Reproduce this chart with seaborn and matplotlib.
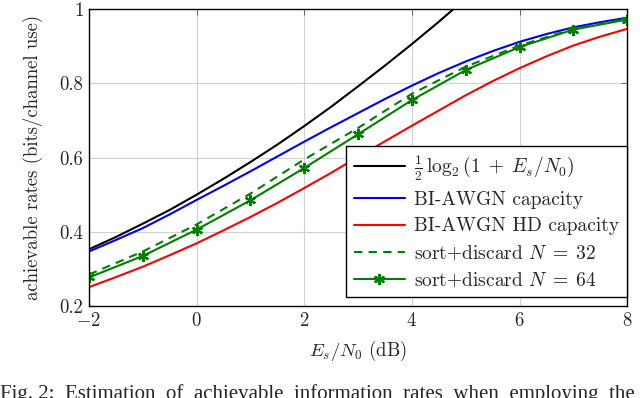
import matplotlib
matplotlib.use("Agg")
import matplotlib.pyplot as plt
import seaborn as sns

# Es/N0 grid (dB) for the smooth curves
snr_db = [-2, -1.5, -1, -0.5, 0, 0.5, 1, 1.5, 2, 2.5, 3, 3.5, 4, 4.5, 5,
          5.5, 6, 6.5, 7, 7.5, 8]
gauss_snr = snr_db[:15]
gauss_rate = [0.353, 0.386, 0.422, 0.459, 0.500, 0.543, 0.588, 0.635, 0.685,
              0.737, 0.792, 0.848, 0.906, 0.966, 1.029]
biawgn_rate = [0.347, 0.378, 0.410, 0.447, 0.486, 0.524, 0.563, 0.603, 0.643,
               0.682, 0.720, 0.758, 0.794, 0.828, 0.859, 0.887, 0.912, 0.933,
               0.951, 0.965, 0.977]
hd_rate = [0.251, 0.278, 0.306, 0.337, 0.369, 0.404, 0.440, 0.478, 0.518,
           0.559, 0.602, 0.644, 0.686, 0.727, 0.768, 0.806, 0.841, 0.873,
           0.902, 0.926, 0.947]

# sort+discard simulations, integer Es/N0
sd_snr = [-2, -1, 0, 1, 2, 3, 4, 5, 6, 7, 8]
sd32_rate = [0.285, 0.347, 0.420, 0.503, 0.595, 0.680, 0.772, 0.845, 0.902, 0.947, 0.974]
sd64_rate = [0.277, 0.335, 0.406, 0.485, 0.572, 0.663, 0.755, 0.836, 0.898, 0.945, 0.972]

xticks = [-2, 0, 2, 4, 6, 8]
yticks = [0.2, 0.4, 0.6, 0.8, 1.0]
ytick_labels = ["0.2", "0.4", "0.6", "0.8", "1"]

sns.set_style("white")
plt.rcParams["font.family"] = ["cmr10", "DejaVu Serif"]
plt.rcParams["mathtext.fontset"] = "cm"
plt.rcParams["axes.formatter.use_mathtext"] = True

fig = plt.figure(figsize=(6.4, 3.98), dpi=100)
ax = fig.add_axes([0.139, 0.231, 0.841, 0.746])

green = "#008000"
sns.lineplot(x=gauss_snr, y=gauss_rate, ax=ax, color="black", lw=1.5,
             label=r"$\frac{1}{2}\,\log_2(1\;+\;E_s/N_0)$")
sns.lineplot(x=snr_db, y=biawgn_rate, ax=ax, color="blue", lw=1.5,
             label="BI-AWGN capacity")
sns.lineplot(x=snr_db, y=hd_rate, ax=ax, color="red", lw=1.5,
             label="BI-AWGN HD capacity")
sns.lineplot(x=sd_snr, y=sd32_rate, ax=ax, color=green, lw=1.5,
             linestyle=(0, (4, 3)), label=r"sort+discard $N\;=\;32$")
sns.lineplot(x=sd_snr, y=sd64_rate, ax=ax, color=green, lw=1.5,
             marker=(6, 2, 0), markersize=8, markeredgewidth=1.6,
             markeredgecolor=green, label=r"sort+discard $N\;=\;64$")

ax.set_xlim(-2, 8)
ax.set_ylim(0.2, 1.0)
ax.set_xticks(xticks)
ax.set_xticklabels([f"${t}$" if t >= 0 else f"$-{-t}$" for t in xticks])
ax.set_yticks(yticks)
ax.set_yticklabels(ytick_labels)
ax.grid(True, color="#d0d0d0", lw=0.8)
ax.tick_params(direction="in", length=4, width=0.6, top=True, right=True,
               labelsize=13.5, pad=4, color="#555555")
for s in ax.spines.values():
    s.set_color("black")
    s.set_linewidth(1.0)

ax.set_xlabel(r"$E_s/N_0$ (dB)", fontsize=13.5, labelpad=7)
ax.set_ylabel("achievable rates (bits/channel use)", fontsize=13.5, labelpad=12)

leg = ax.legend(loc="lower right", bbox_to_anchor=(1.0, 0.03), borderaxespad=0,
                fontsize=14, frameon=True, fancybox=False, framealpha=1,
                edgecolor="black", handlelength=2.6, labelspacing=0.42,
                borderpad=0.4, handletextpad=0.5)
leg.get_frame().set_linewidth(1.0)

fig.text(0.0, 0.035, "Fig. 2:  Estimation  of  achievable  information  rates  when  employing  the",
         family=["Liberation Serif"], fontsize=15, va="top", ha="left")

fig.savefig("out.png", dpi=100)
